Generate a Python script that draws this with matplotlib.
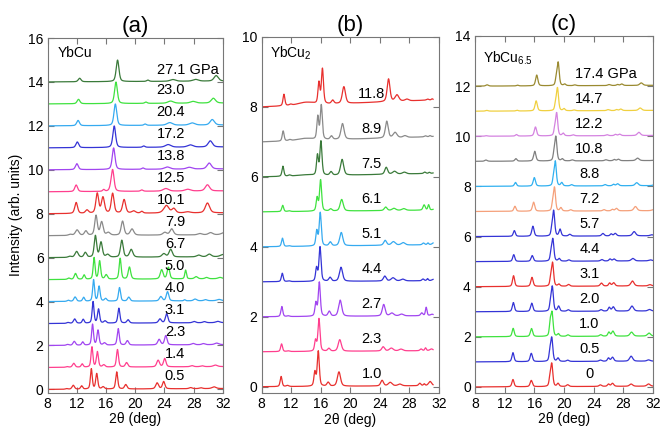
import numpy as np
import matplotlib
matplotlib.use("Agg")
import matplotlib.pyplot as plt

plt.rcParams['font.family'] = ['Liberation Sans', 'DejaVu Sans']
plt.rcParams['mathtext.fontset'] = 'custom'
plt.rcParams['mathtext.rm'] = 'Liberation Sans'
plt.rcParams['mathtext.it'] = 'Liberation Sans'

# ---------------- Panel (a) YbCu ----------------
a_labels = ["0.5", "1.4", "2.3", "3.1", "4.0", "5.0", "6.7", "7.9", "10.1",
            "12.5", "13.8", "17.2", "20.4", "23.0", "27.1 GPa"]
a_colors = ['#e8302e', '#ff3f8e', '#a145f0', '#3434d6', '#35aaf0', '#3fe23f',
            '#3a7a3a', '#8a8a8a', '#e8302e', '#ff3f8e', '#a145f0', '#3434d6',
            '#35aaf0', '#3fe23f', '#3a7a3a']
# low-pressure phase reflections (2theta at 0.5 GPa)
a_lp_pos = [10.6, 11.5, 12.65, 13.98, 14.72, 15.6, 17.46, 18.7, 23.0, 23.9, 26.2, 27.6, 29.0, 30.8]
a_lp_wid = [0.4, 0.4, 0.33, 0.3, 0.33, 0.4, 0.33, 0.4, 0.45, 0.4, 0.27, 0.5, 0.5, 0.65]
a_lp_h = [
    [0.03, 0.18, 0.15, 0.92, 0.70, 0.10, 0.78, 0.20, 0.27, 0.33, 0.00, 0.05, 0.04, 0.08],
    [0.03, 0.18, 0.15, 0.92, 0.70, 0.10, 0.80, 0.20, 0.30, 0.38, 0.00, 0.05, 0.04, 0.07],
    [0.04, 0.18, 0.15, 0.95, 0.68, 0.10, 0.75, 0.20, 0.25, 0.42, 0.00, 0.06, 0.05, 0.07],
    [0.04, 0.20, 0.18, 0.98, 0.64, 0.10, 0.68, 0.15, 0.18, 0.42, 0.00, 0.06, 0.05, 0.06],
    [0.05, 0.20, 0.18, 0.98, 0.68, 0.12, 0.62, 0.18, 0.20, 0.42, 0.05, 0.08, 0.05, 0.06],
    [0.06, 0.27, 0.20, 0.98, 0.83, 0.20, 0.95, 0.55, 0.42, 0.53, 0.40, 0.10, 0.06, 0.06],
    [0.05, 0.27, 0.22, 0.98, 0.68, 0.12, 0.77, 0.35, 0.15, 0.35, 0.00, 0.08, 0.12, 0.10],
    [0.05, 0.25, 0.20, 0.90, 0.60, 0.12, 0.64, 0.28, 0.12, 0.28, 0.00, 0.06, 0.10, 0.10],
    [0.00, 0.00, 0.15, 0.90, 0.72, 0.00, 0.62, 0.10, 0.15, 0.20, 0.00, 0.00, 0.00, 0.00],
    [0.00, 0.00, 0.00, 0.00, 0.08, 0.08, 0.00, 0.00, 0.00, 0.00, 0.00, 0.00, 0.00, 0.00],
    [0.0] * 14, [0.0] * 14, [0.0] * 14, [0.0] * 14, [0.0] * 14,
]
a_lp_scale = [1.0, 1.006, 1.012, 1.017, 1.022, 1.027, 1.040, 1.046, 1.058,
              1.065, 1.0, 1.0, 1.0, 1.0, 1.0]
a_lp_broad = [1.0, 1.0, 1.0, 1.0, 1.0, 1.0, 1.3, 1.4, 1.5, 1.0, 1.0, 1.0, 1.0, 1.0, 1.0]
# high-pressure phase reflections (2theta at 12.5 GPa)
a_hp_pos = [11.9, 16.9, 20.9, 24.2, 27.2, 29.9]
a_hp_wid = [0.45, 0.45, 0.4, 0.9, 0.9, 0.7]
a_hp_h = [
    [0.0] * 6, [0.0] * 6, [0.0] * 6, [0.0] * 6, [0.0] * 6, [0.0] * 6, [0.0] * 6, [0.0] * 6,
    [0.50, 0.90, 0.08, 0.20, 0.05, 0.45],
    [0.30, 0.98, 0.06, 0.12, 0.08, 0.28],
    [0.27, 0.98, 0.06, 0.10, 0.08, 0.27],
    [0.26, 0.98, 0.06, 0.12, 0.10, 0.28],
    [0.24, 0.98, 0.06, 0.12, 0.10, 0.25],
    [0.20, 0.98, 0.06, 0.10, 0.08, 0.22],
    [0.16, 0.98, 0.06, 0.08, 0.08, 0.25],
]
a_hp_scale = [1.0] * 8 + [1.0, 1.0, 1.008, 1.013, 1.022, 1.027, 1.040]
a_tilt = [0.04] * 15

# ---------------- Panel (b) YbCu2 ----------------
b_labels = ["1.0", "2.3", "2.7", "4.4", "5.1", "6.1", "7.5", "8.9", "11.8"]
b_colors = ['#e8302e', '#ff3f8e', '#a145f0', '#3434d6', '#35aaf0', '#3fe23f',
            '#3a7a3a', '#8a8a8a', '#e8302e']
b_pos = [10.63, 11.5, 13.5, 15.2, 15.66, 17.0, 18.46, 24.3, 25.4, 26.7, 29.4, 30.0, 30.8]
b_wid = [0.3, 0.4, 2.5, 0.3, 0.33, 0.4, 0.5, 0.45, 0.6, 0.6, 0.35, 0.25, 0.5]
b_h = [
    [0.29, 0.03, 0.00, 0.40, 1.00, 0.11, 0.41, 0.16, 0.10, 0.05, 0.07, 0.05, 0.12],
    [0.22, 0.02, 0.00, 0.31, 0.93, 0.08, 0.33, 0.12, 0.08, 0.05, 0.05, 0.08, 0.05],
    [0.29, 0.02, 0.00, 0.38, 0.97, 0.14, 0.46, 0.33, 0.08, 0.05, 0.08, 0.24, 0.04],
    [0.24, 0.02, 0.00, 0.38, 0.98, 0.11, 0.40, 0.14, 0.09, 0.05, 0.05, 0.06, 0.04],
    [0.24, 0.02, 0.00, 0.43, 0.95, 0.11, 0.38, 0.14, 0.10, 0.07, 0.05, 0.05, 0.06],
    [0.18, 0.02, 0.00, 0.38, 0.89, 0.06, 0.33, 0.10, 0.06, 0.05, 0.15, 0.15, 0.03],
    [0.29, 0.03, 0.03, 0.57, 0.97, 0.10, 0.45, 0.20, 0.08, 0.05, 0.04, 0.03, 0.03],
    [0.29, 0.03, 0.06, 0.65, 0.98, 0.10, 0.45, 0.48, 0.15, 0.05, 0.03, 0.03, 0.03],
    [0.33, 0.03, 0.08, 0.60, 1.00, 0.10, 0.48, 0.65, 0.18, 0.05, 0.03, 0.03, 0.03],
]
b_scale = [1.0, 1.006, 1.009, 1.015, 1.017, 1.020, 1.023, 1.026, 1.036]
b_tilt = [0.03, 0.03, 0.03, 0.03, 0.06, 0.05, 0.10, 0.15, 0.20]

# ---------------- Panel (c) YbCu6.5 ----------------
c_labels = ["0", "0.5", "1.0", "2.0", "3.1", "4.4", "5.7", "7.2", "8.8",
            "10.8", "12.2", "14.7", "17.4 GPa"]
c_colors = ['#e8302e', '#3434d6', '#3fe23f', '#3434d6', '#e8302e', '#3434d6',
            '#3434d6', '#f5a07a', '#30b0f0', '#808080', '#d482e0', '#f0d040', '#9a8a30']
c_pos = [9.2, 13.12, 15.59, 18.1, 18.35, 19.2, 20.5, 24.9, 26.0, 26.54, 29.05, 31.4]
c_wid = [0.4, 0.33, 0.36, 0.27, 0.33, 0.33, 0.4, 0.4, 0.33, 0.4, 0.5, 0.5]
c_h = [
    [0.00, 0.29, 0.25, 0.30, 0.90, 0.12, 0.07, 0.06, 0.09, 0.12, 0.09, 0.09],
    [0.00, 0.36, 0.33, 0.35, 0.93, 0.13, 0.05, 0.05, 0.13, 0.16, 0.20, 0.05],
    [0.00, 0.33, 0.32, 0.50, 0.93, 0.10, 0.06, 0.06, 0.16, 0.20, 0.16, 0.12],
    [0.00, 0.36, 0.33, 0.30, 0.97, 0.20, 0.06, 0.06, 0.15, 0.17, 0.20, 0.06],
    [0.00, 0.43, 0.36, 0.30, 0.92, 0.08, 0.07, 0.12, 0.12, 0.13, 0.20, 0.05],
    [0.00, 0.27, 0.23, 0.30, 0.87, 0.10, 0.05, 0.06, 0.08, 0.08, 0.10, 0.04],
    [0.00, 0.23, 0.40, 0.25, 1.00, 0.27, 0.07, 0.10, 0.08, 0.10, 0.17, 0.04],
    [0.00, 0.20, 0.36, 0.25, 0.93, 0.13, 0.05, 0.05, 0.06, 0.10, 0.17, 0.04],
    [0.00, 0.15, 0.34, 0.25, 0.97, 0.13, 0.05, 0.05, 0.06, 0.08, 0.12, 0.04],
    [0.05, 0.10, 0.39, 0.25, 0.96, 0.08, 0.04, 0.04, 0.05, 0.06, 0.10, 0.04],
    [0.02, 0.06, 0.36, 0.25, 0.90, 0.10, 0.04, 0.04, 0.05, 0.06, 0.13, 0.04],
    [0.03, 0.03, 0.40, 0.25, 0.90, 0.08, 0.03, 0.04, 0.04, 0.06, 0.10, 0.04],
    [0.05, 0.03, 0.43, 0.25, 0.92, 0.06, 0.03, 0.04, 0.04, 0.06, 0.10, 0.05],
]
c_scale = [1.0, 1.0, 1.002, 1.004, 1.006, 1.008, 1.014, 1.020, 1.026, 1.030, 1.036, 1.042, 1.047]
c_tilt = [0.03] * 13


def profile(x, pos, wid, h, scale, broad=1.0):
    y = np.zeros_like(x)
    for p, w, a in zip(pos, wid, h):
        if a == 0:
            continue
        c = p * scale
        fw = w * broad
        s = fw / 2.3548
        g = np.exp(-0.5 * ((x - c) / s) ** 2)
        l = 1.0 / (1.0 + ((x - c) / (fw / 2)) ** 2)
        y += a * (0.55 * g + 0.45 * l)
    return y


fig = plt.figure(figsize=(6.61, 4.30), dpi=100)
axA = fig.add_axes([0.0722, 0.0867, 0.2648, 0.8249])
axB = fig.add_axes([0.3959, 0.0860, 0.2682, 0.8280])
axC = fig.add_axes([0.7186, 0.0867, 0.2693, 0.8296])

xa = np.linspace(8, 32, 2400)
xb = np.linspace(8, 31.2, 2320)
xc = np.linspace(8, 32, 2400)

lw = 0.9
for i in range(len(a_labels)):
    y = (profile(xa, a_lp_pos, a_lp_wid, a_lp_h[i], a_lp_scale[i], a_lp_broad[i])
         + profile(xa, a_hp_pos, a_hp_wid, a_hp_h[i], a_hp_scale[i]))
    y += a_tilt[i] * (xa - 8) / 24
    axA.plot(xa, y + i, color=a_colors[i], lw=lw)
    if i == len(a_labels) - 1:
        axA.text(22.95, i + 0.55, a_labels[i], ha='left', va='center', fontsize=10.5)
    else:
        axA.text(26.83, i + 0.62, a_labels[i], ha='right', va='center', fontsize=10.5)

for i in range(len(b_labels)):
    y = profile(xb, b_pos, b_wid, b_h[i], b_scale[i])
    y += b_tilt[i] * (xb - 8) / 23.2
    axB.plot(xb, y + i, color=b_colors[i], lw=lw)
    axB.text(22.9, i + 0.36, b_labels[i], ha='center', va='center', fontsize=10.5)

for i in range(len(c_labels)):
    y = profile(xc, c_pos, c_wid, c_h[i], c_scale[i])
    y += c_tilt[i] * (xc - 8) / 24
    axC.plot(xc, y + i, color=c_colors[i], lw=lw)
    if i == len(c_labels) - 1:
        axC.text(21.5, i + 0.5, c_labels[i], ha='left', va='center', fontsize=10.5)
    else:
        axC.text(23.43, i + 0.5, c_labels[i], ha='center', va='center', fontsize=10.5)

axA.set_ylim(-0.15, 16)
axB.set_ylim(-0.18, 10)
axC.set_ylim(-0.23, 14)
axA.set_yticks(np.arange(0, 17, 2))
axB.set_yticks(np.arange(0, 11, 2))
axC.set_yticks(np.arange(0, 15, 2))

axA.text(9.3, 15.3, "YbCu", fontsize=10, va='center', ha='left')
axB.text(9.1, 9.53, "YbCu$_2$", fontsize=10, va='center', ha='left')
axC.text(9.1, 13.1, "YbCu$_{6.5}$", fontsize=10, va='center', ha='left')

for ax, t in zip([axA, axB, axC], ["(a)", "(b)", "(c)"]):
    ax.set_xlim(8, 32)
    ax.set_xticks([8, 12, 16, 20, 24, 28, 32])
    ax.tick_params(direction='in', top=True, right=True, length=4, width=0.8,
                   color='#777777', labelsize=10, pad=3)
    for sp in ax.spines.values():
        sp.set_color('#777777')
        sp.set_linewidth(0.8)
    ax.set_xlabel("2θ (deg)", fontsize=10, labelpad=1)
    ax.set_title(t, fontsize=16, pad=4)

axA.set_ylabel("Intensity (arb. units)", fontsize=10, labelpad=4)

fig.savefig("out.png", dpi=100)
